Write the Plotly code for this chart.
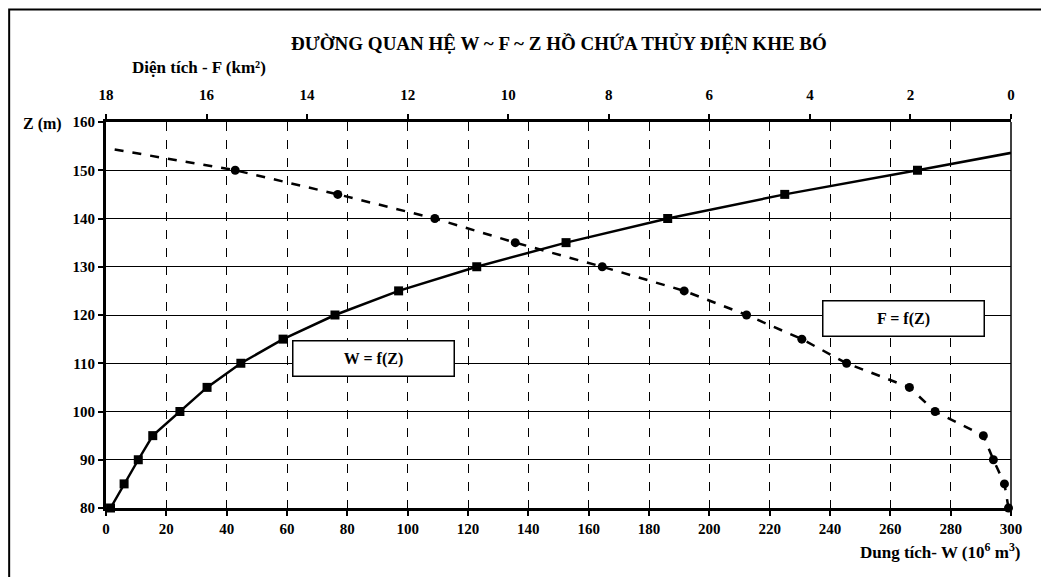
import plotly.graph_objects as go

# Water level Z (m)
Z = [80, 85, 90, 95, 100, 105, 110, 115, 120, 125, 130, 135, 140, 145, 150, 155]
# Storage W (10^6 m3)
W = [1.5, 6.0, 10.7, 15.5, 24.5, 33.5, 44.7, 58.7, 75.9, 97.0, 122.9, 152.5, 186.2, 225.0, 269.0, 312.0]
# Surface area F (km2)
F = [0.05, 0.13, 0.35, 0.55, 1.51, 2.02, 3.27, 4.16, 5.26, 6.50, 8.13, 9.86, 11.46, 13.39, 15.43, 18.22]

W_ticks = list(range(0, 301, 20))
F_ticks = list(range(0, 19, 2))
Z_ticks = list(range(80, 161, 10))

FONT = "'Liberation Serif', 'Times New Roman', serif"

# markers only at measured levels (last point is the curve continuation beyond the axes)
msize = [9 if z <= 150 else 0 for z in Z]

fig = go.Figure()
fig.add_trace(go.Scatter(
    x=W, y=Z, mode="lines+markers", xaxis="x", yaxis="y",
    line=dict(color="black", width=2.5),
    marker=dict(symbol="square", size=msize, color="black", opacity=1,
                line=dict(width=0)),
    name="W = f(Z)", cliponaxis=False,
))
fig.add_trace(go.Scatter(
    x=F, y=Z, mode="lines+markers", xaxis="x2", yaxis="y",
    line=dict(color="black", width=2.5, dash="dash"),
    marker=dict(symbol="circle", size=msize, color="black", opacity=1,
                line=dict(width=0)),
    name="F = f(Z)", cliponaxis=False,
))

tickfont = dict(family=FONT, size=15, color="black", weight="bold")

fig.update_layout(
    width=1041, height=569,
    margin=dict(l=98, r=38, t=114, b=69),
    paper_bgcolor="white", plot_bgcolor="white",
    showlegend=False,
    font=dict(family=FONT, color="black"),
    xaxis=dict(
        range=[0, 300], tickvals=W_ticks, showgrid=True,
        gridcolor="black", gridwidth=1, griddash="dash",
        showline=True, linewidth=3, linecolor="black",
        ticks="outside", ticklen=5, tickwidth=2, tickcolor="black",
        tickfont=tickfont, zeroline=False,
    ),
    xaxis2=dict(
        range=[18, 0], tickvals=F_ticks, overlaying="x", side="top",
        anchor="y", showgrid=False,
        showline=True, linewidth=3, linecolor="black",
        ticks="outside", ticklen=5, tickwidth=2, tickcolor="black",
        tickfont=tickfont, zeroline=False, ticklabelstandoff=8,
    ),
    yaxis=dict(
        range=[80, 160], tickvals=Z_ticks, showgrid=True,
        gridcolor="black", gridwidth=1,
        showline=True, linewidth=3, linecolor="black",
        ticks="outside", ticklen=5, tickwidth=2, tickcolor="black",
        tickfont=tickfont, zeroline=False,
    ),
    shapes=[
        dict(type="line", xref="paper", yref="paper", x0=1, x1=1, y0=0, y1=1,
             line=dict(color="black", width=1.5)),
        dict(type="rect", xref="paper", yref="paper", x0=-0.107, x1=1.2,
             y0=-0.5, y1=(500 - 1.5) / 386, line=dict(color="black", width=2)),
    ],
    annotations=[
        dict(text="<b>ĐƯỜNG QUAN HỆ W ~ F ~ Z HỒ CHỨA THỦY ĐIỆN KHE BÓ</b>",
             xref="paper", yref="paper", x=0.5, y=1.203, showarrow=False,
             xanchor="center", yanchor="middle",
             font=dict(family=FONT, size=19, color="black")),
        dict(text="<b>Diện tích - F (km²)</b>",
             xref="paper", yref="paper", x=0.026, y=1.14, showarrow=False,
             xanchor="left", yanchor="middle",
             font=dict(family=FONT, size=17, color="black")),
        dict(text="<b>Dung tích- W (10<sup>6</sup> m<sup>3</sup>)</b>",
             xref="paper", yref="paper", x=1.013, y=-0.111, showarrow=False,
             xanchor="right", yanchor="middle",
             font=dict(family=FONT, size=17, color="black")),
        dict(text="<b>Z (m)</b>",
             xref="paper", yref="paper", x=-0.046, y=0.995, showarrow=False,
             xanchor="right", yanchor="middle",
             font=dict(family=FONT, size=16, color="black")),
        dict(text="<b>W = f(Z)</b>",
             xref="paper", yref="paper", x=(373.5 - 106) / 905, y=(508 - 358) / 386,
             showarrow=False, xanchor="center", yanchor="middle",
             width=158, height=32, borderwidth=1.5, bordercolor="black",
             bgcolor="white", borderpad=1,
             font=dict(family=FONT, size=16, color="black")),
        dict(text="<b>F = f(Z)</b>",
             xref="paper", yref="paper", x=(903.5 - 106) / 905, y=(508 - 318) / 386,
             showarrow=False, xanchor="center", yanchor="middle",
             width=158, height=32, borderwidth=1.5, bordercolor="black",
             bgcolor="white", borderpad=1,
             font=dict(family=FONT, size=16, color="black")),
    ],
)

fig.write_html("out.html")
